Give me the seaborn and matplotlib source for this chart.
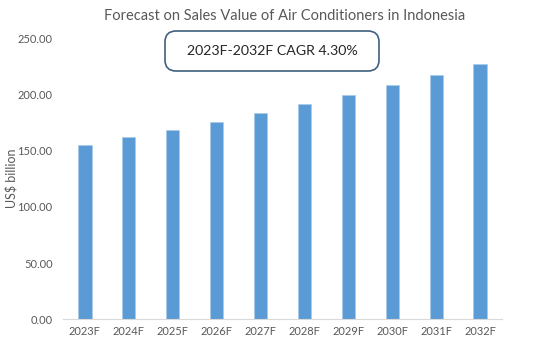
import matplotlib
matplotlib.use("Agg")
import matplotlib.pyplot as plt
import seaborn as sns
import pandas as pd
from matplotlib.patches import FancyBboxPatch

years = ["2023F", "2024F", "2025F", "2026F", "2027F", "2028F", "2029F", "2030F", "2031F", "2032F"]
values = [155.4, 162.2, 168.8, 176.2, 184.0, 191.7, 200.0, 209.2, 218.1, 227.4]
yticks = [0, 50, 100, 150, 200, 250]
title = "Forecast on Sales Value of Air Conditioners in Indonesia"
cagr_text = "2023F-2032F CAGR 4.30%"
ylabel = "US$ billion"

sns.set_theme(style="white")
plt.rcParams['font.family'] = ['Lato', 'DejaVu Sans']

df = pd.DataFrame({"year": years, "value": values})

fig = plt.figure(figsize=(5.5, 3.48), dpi=100)
ax = fig.add_axes([0.1145, 0.0833, 0.7982, 0.8047])
sns.barplot(data=df, x="year", y="value", color="#5B9BD5", saturation=1,
            width=0.3, ax=ax, edgecolor="#A9CBEB", linewidth=0.5)
ax.set_xlim(-0.5, len(years) - 0.5)
ax.set_ylim(0, 250)
ax.set_yticks(yticks)
ax.set_yticklabels([f"{v:.2f}" for v in yticks])
ax.set_xlabel("")
ax.set_ylabel("")
fig.text(11 / 550, 1 - 178 / 348, ylabel, rotation=90, ha="center", va="center",
         color="#595959", fontsize=9)
ax.tick_params(axis="both", colors="#595959", labelsize=8, length=0)
ax.tick_params(axis="y", pad=7.5)
ax.tick_params(axis="x", pad=5)
for s in ["top", "right", "left"]:
    ax.spines[s].set_visible(False)
ax.spines["bottom"].set_color("#D9D9D9")
ax.spines["bottom"].set_linewidth(0.8)

fig.text(0.518, 0.955, title, ha="center", va="center", fontsize=10.5, color="#595959")

box = FancyBboxPatch((165 / 550, 1 - 71 / 348), (379 - 165) / 550, (71 - 31) / 348,
                     boxstyle="round,pad=0,rounding_size=0.02", transform=fig.transFigure,
                     facecolor="white", edgecolor="#41607F", linewidth=1.2, mutation_aspect=550/348)
fig.add_artist(box)
fig.text(272 / 550, 1 - 51 / 348, cagr_text, ha="center", va="center", fontsize=10.2, color="#262626")

fig.savefig("out.png", dpi=100)
